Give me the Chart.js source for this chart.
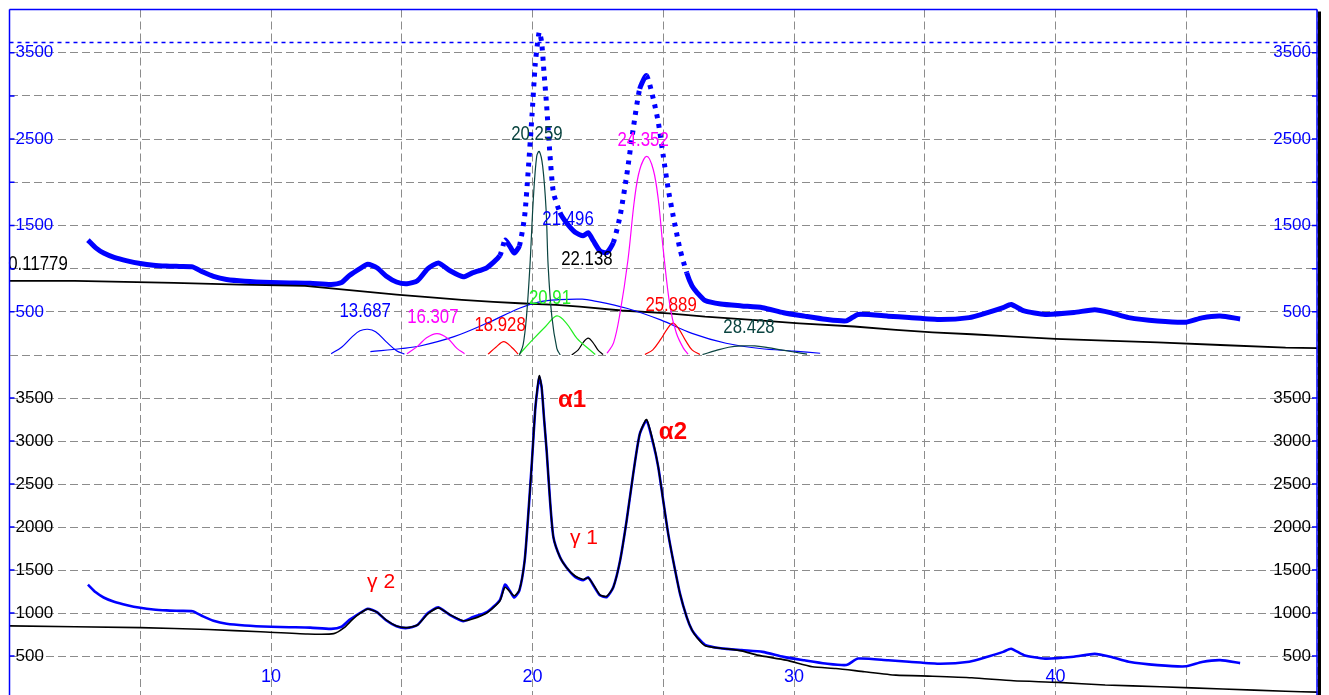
<!DOCTYPE html>
<html>
<head>
<meta charset="utf-8">
<script src="https://cdn.jsdelivr.net/npm/chart.js@4.4.1/dist/chart.umd.min.js"></script>
<style>
  html, body { margin: 0; padding: 0; background: #fff; overflow: hidden; }
  #wrap { position: relative; width: 1329px; height: 695px; overflow: hidden; background: #fff; }
  #wrap canvas { position: absolute; left: 0; }
  #xrd-top { top: 0; z-index: 2; }
  #xrd-bottom { top: 355px; z-index: 1; }
</style>
</head>
<body>
<div id="wrap">
  <canvas id="xrd-top" width="1329" height="360"></canvas>
  <canvas id="xrd-bottom" width="1329" height="360"></canvas>
</div>
<script>
/* ---- measured pattern (2-theta, counts) ---- */
var angle = [3.0, 3.3, 3.6, 4.0, 4.5, 5.0, 5.5, 6.0, 6.5, 7.0, 7.4, 7.8, 8.3, 9.0, 10.0, 10.7, 11.5, 12.3, 12.7, 13.0,
  13.4, 13.7, 14.05, 14.4, 14.8, 15.2, 15.6, 16.0, 16.4, 16.85, 17.35, 17.7, 18.25, 18.75, 18.95, 19.15, 19.3, 19.5,
  19.7, 19.83, 19.98, 20.1, 20.18, 20.26, 20.35, 20.44, 20.54, 20.67, 20.8, 21.05, 21.3, 21.63, 21.94, 22.13, 22.33,
  22.58, 22.84, 23.09, 23.35, 23.6, 23.85, 24.1, 24.36, 24.62, 24.81, 25.0, 25.19, 25.38, 25.64, 25.9, 26.1, 26.3,
  26.6, 27.2, 28.0, 28.8, 29.6, 30.4, 31.2, 32.0, 32.45, 33.6, 34.4, 35.6, 36.7, 37.4, 38.0, 38.3, 38.8, 39.6, 40.7,
  41.5, 42.1, 42.8, 43.9, 45.0, 45.6, 46.3, 47.06];
var intensity = [1330, 1240, 1180, 1130, 1090, 1060, 1040, 1030, 1025, 1020, 960, 910, 875, 855, 840, 835, 830, 815, 840, 920,
  1000, 1050, 1010, 915, 845, 825, 860, 1000, 1065, 975, 905, 950, 1010, 1150, 1330, 1250, 1180, 1264,
  1610, 2110, 2770, 3350, 3580, 3740, 3620, 3270, 2890, 2310, 1880, 1650, 1530, 1420, 1380, 1415, 1320,
  1205, 1185, 1300, 1610, 2075, 2615, 3080, 3235, 2965, 2695, 2305, 1920, 1610, 1225, 950, 800, 720,
  630, 590, 568, 548, 490, 450, 413, 395, 470, 450, 433, 410, 433, 491, 548, 585, 510, 470, 491,
  525, 491, 433, 394, 380, 430, 452, 417];

// background line (top panel)
var baseAngle = [0, 2.5, 6.3, 8.8, 11.3, 13.4, 14.8, 16.0, 17.3, 18.5, 19.5, 20.9, 21.8, 23.4, 25.2, 26.6, 28.4, 30.2,
  32.3, 33.9, 35.3, 36.8, 38.4, 40.0, 41.9, 43.9, 46.3, 48.8, 50];
var baseLevel = [858, 858, 835, 815, 800, 740, 700, 669, 638, 615, 599, 580, 560, 515, 483, 444, 406, 367,
  330, 290, 263, 240, 212, 186, 166, 147, 116, 85, 80];
var maxLevel = 3617;

// fitted envelope + background (bottom panel)
var fitAngle = [0, 5, 7.6, 9.6, 11.4, 12.4, 12.8, 13.1, 13.4, 13.7, 14.05, 14.4, 14.8, 15.2, 15.6, 16.0, 16.4, 16.85,
  17.35, 17.7, 18.25, 18.75, 18.95, 19.3, 19.5, 19.7, 19.83, 19.98, 20.1, 20.18, 20.26, 20.35, 20.44, 20.54, 20.67,
  20.8, 21.05, 21.3, 21.63, 21.94, 22.13, 22.33, 22.58, 22.84, 23.09, 23.35, 23.6, 23.85, 24.1, 24.36, 24.62, 24.81,
  25.0, 25.19, 25.38, 25.64, 25.9, 26.1, 26.3, 26.6, 27.2, 28.0, 28.6, 29.7, 30.7, 31.6, 32.7, 33.9, 35.3, 36.8,
  38.4, 40.1, 41.9, 44.0, 46.4, 48.8, 50];
var fitLevel = [850, 830, 808, 782, 756, 760, 830, 920, 995, 1045, 1010, 920, 850, 830, 860, 990, 1060, 980,
  910, 930, 1000, 1140, 1300, 1200, 1270, 1610, 2110, 2770, 3350, 3600, 3760, 3630, 3270, 2890, 2310,
  1880, 1650, 1530, 1430, 1390, 1410, 1330, 1210, 1195, 1300, 1610, 2075, 2615, 3080, 3250, 2980, 2695,
  2305, 1920, 1610, 1225, 950, 800, 710, 620, 590, 560, 510, 452, 375, 355, 317, 278, 265, 247,
  212, 193, 162, 143, 116, 90, 80];

// deconvoluted peaks
var p13687X = [12.3, 12.7, 13.1, 13.4, 13.7, 14.0, 14.4, 14.8, 15.1];
var p13687Y = [15, 90, 210, 280, 298, 270, 155, 50, 10];
var p16307X = [15.2, 15.6, 15.95, 16.35, 16.75, 17.1, 17.4];
var p16307Y = [15, 100, 200, 248, 195, 80, 15];
var p18928X = [18.3, 18.6, 18.9, 19.2, 19.45];
var p18928Y = [10, 90, 155, 90, 10];
var p20259X = [19.5, 19.64, 19.77, 19.9, 20.03, 20.16, 20.26, 20.39, 20.52, 20.6, 20.74, 20.93, 21.06];
var p20259Y = [0, 116, 444, 1023, 1797, 2300, 2357, 2183, 1681, 1023, 444, 77, 0];
var p2091X = [19.5, 20.0, 20.5, 20.93, 21.3, 21.7, 22.2, 22.4];
var p2091Y = [10, 175, 330, 452, 367, 193, 58, 5];
var p21496X = [13.8, 15.0, 15.7, 17.0, 18.25, 19.5, 20.3, 21.0, 21.9, 22.3, 23.6, 24.9, 26.1, 27.4, 28.7, 30.0, 31.0];
var p21496Y = [40, 75, 104, 212, 367, 541, 618, 640, 646, 630, 541, 406, 251, 136, 75, 45, 20];
var p22138X = [21.5, 21.75, 21.95, 22.13, 22.3, 22.5, 22.7];
var p22138Y = [0, 60, 150, 195, 150, 60, 5];
var p24352X = [22.85, 23.1, 23.35, 23.65, 23.9, 24.1, 24.37, 24.62, 24.81, 25.0, 25.26, 25.5, 25.77, 25.95];
var p24352Y = [20, 140, 490, 1100, 1800, 2145, 2300, 2145, 1800, 1220, 560, 255, 80, 10];
var p25889X = [24.3, 24.6, 24.9, 25.15, 25.37, 25.6, 25.85, 26.1, 26.4];
var p25889Y = [5, 60, 180, 300, 370, 300, 170, 60, 5];
var p28428X = [26.5, 27.0, 27.5, 28.0, 28.5, 29.0, 29.5, 30.0, 30.5];
var p28428Y = [5, 50, 90, 105, 105, 85, 60, 35, 10];

// peak position labels (placed in data units)
var peakLabels = ["13.687", "16.307", "18.928", "20.259", "20.91", "21.496", "22.138", "24.352", "25.889", "28.428", "0.11779"];
var peakLabelAngle = [13.6, 16.19, 18.76, 20.17, 20.67, 21.36, 22.08, 24.23, 25.3, 28.28, 1.09];
var peakLabelLevel = [499, 429, 336, 2551, 649, 1565, 1101, 2481, 568, 313, 1043];

var phaseLabels = ["\u03b11", "\u03b12", "\u03b3 1", "\u03b3 2"];
var phaseAngle = [21.51, 25.37, 21.97, 14.21];
var phaseLevel = [3467, 3096, 1867, 1357];

// tick labels
var xTickLabels = ["10", "20", "30", "40"];
var topTickLabels = ["500", "1500", "2500", "3500"];
var bottomTickLabels = ["500", "1000", "1500", "2000", "2500", "3000", "3500"];

/* ---- styling ---- */
var BLUE = "#0000ff", MAGENTA = "#ff00ff", RED = "#ff0000", TEAL = "#0a4440", GREEN = "#22ee22", GRID = "#8c8c8c";
var SANS = "'Liberation Sans', Arial, sans-serif";
var peakColors = [BLUE, MAGENTA, RED, TEAL, GREEN, BLUE, "#000000", MAGENTA, RED, TEAL, "#000000"];

function pts(xs, ys) {
  return xs.map(function (x, i) { return { x: x, y: ys[i] }; });
}

function thin(xs, ys, color) {
  return { data: pts(xs, ys), borderColor: color, borderWidth: 1.2, pointRadius: 0, tension: 0.35, fill: false };
}

var framePlugin = {
  id: "frame",
  afterDraw: function (chart, args, opts) {
    var a = chart.chartArea, c = chart.ctx, ys = chart.scales.y;
    c.save();
    c.strokeStyle = BLUE;
    c.lineWidth = 1.5;
    c.beginPath();
    if (opts.top) { c.moveTo(a.left, a.top); c.lineTo(a.right, a.top); }
    c.moveTo(a.left, a.top); c.lineTo(a.left, a.bottom);
    c.moveTo(a.right, a.top); c.lineTo(a.right, a.bottom);
    // small inner tick marks
    for (var v = 500; v < 4000; v += 500) {
      var py = ys.getPixelForValue(v);
      c.moveTo(a.left, py); c.lineTo(a.left + 5, py);
      c.moveTo(a.right - 5, py); c.lineTo(a.right, py);
    }
    c.stroke();
    c.fillStyle = "#000";
    c.fillRect(a.right + 1, a.top + (opts.top ? 2 : 0), 3, a.bottom - a.top);
    c.restore();
  }
};

// narrow, tall lettering like the original instrument software
var labelPlugin = {
  id: "labels",
  afterDatasetsDraw: function (chart, args, opts) {
    var c = chart.ctx, sx = chart.scales.x, sy = chart.scales.y;
    opts.items.forEach(function (it) {
      c.save();
      c.translate(sx.getPixelForValue(it.x), sy.getPixelForValue(it.y));
      c.scale(it.squeeze || 1, 1);
      c.textAlign = "center";
      c.textBaseline = "middle";
      c.font = it.font;
      c.fillStyle = it.color;
      c.fillText(it.text, 0, 0);
      c.restore();
    });
  }
};

function zeroPad(scale) {
  scale.paddingTop = 0; scale.paddingBottom = 0; scale.paddingLeft = 0; scale.paddingRight = 0;
}

function yAxis(position, color, labels) {
  return {
    type: "linear", position: position, min: 0, max: 4000,
    grid: { display: position === "left", color: GRID, lineWidth: 1, drawTicks: false },
    border: { display: false, dash: [8, 4] },
    ticks: {
      stepSize: 500, mirror: true, padding: position === "left" ? 6 : -6, color: color,
      font: { family: SANS, size: 17 },
      callback: function (v) { var s = String(v); return labels.indexOf(s) >= 0 ? s : ""; }
    },
    afterFit: function (scale) { scale.width = 0; zeroPad(scale); }
  };
}

function xAxis(showLabels) {
  return {
    type: "linear", min: 0, max: 50,
    grid: { color: GRID, lineWidth: 1, drawTicks: false },
    border: { display: false, dash: [8, 4] },
    ticks: {
      display: showLabels, stepSize: 5, autoSkip: false, maxRotation: 0, mirror: true, padding: 11, color: BLUE,
      font: { family: SANS, size: 18 },
      callback: function (v) { var s = String(v); return xTickLabels.indexOf(s) >= 0 ? s : ""; }
    },
    afterFit: function (scale) { scale.height = 0; zeroPad(scale); }
  };
}

// ---- top panel: raw pattern + peak fit components ----
var topItems = peakLabels.map(function (t, i) {
  return { text: t, x: peakLabelAngle[i], y: peakLabelLevel[i], color: peakColors[i], font: "20px " + SANS, squeeze: 0.84 };
});

new Chart(document.getElementById("xrd-top"), {
  type: "line",
  data: {
    datasets: [
      thin(p20259X, p20259Y, TEAL),
      thin(p2091X, p2091Y, GREEN),
      thin(p22138X, p22138Y, "#000000"),
      thin(p24352X, p24352Y, MAGENTA),
      thin(p25889X, p25889Y, RED),
      thin(p28428X, p28428Y, TEAL),
      thin(p13687X, p13687Y, BLUE),
      thin(p16307X, p16307Y, MAGENTA),
      thin(p18928X, p18928Y, RED),
      thin(p21496X, p21496Y, BLUE),
      { data: pts(baseAngle, baseLevel), borderColor: "#000", borderWidth: 1.8, pointRadius: 0, tension: 0 },
      { data: pts([0, 50], [maxLevel, maxLevel]), borderColor: BLUE, borderWidth: 1.5, borderDash: [4, 4], pointRadius: 0 },
      {
        data: pts(angle, intensity), borderColor: BLUE, borderWidth: 5, pointRadius: 0, tension: 0.2,
        segment: {
          borderDash: function (ctx) {
            return Math.abs(ctx.p1.y - ctx.p0.y) > 2.5 * Math.abs(ctx.p1.x - ctx.p0.x) ? [4, 6] : undefined;
          }
        }
      }
    ]
  },
  options: {
    responsive: false, animation: false, events: [],
    layout: { autoPadding: false, padding: { left: 9.5, right: 12, top: 9.5, bottom: 5 } },
    plugins: { legend: { display: false }, tooltip: { enabled: false }, frame: { top: true }, labels: { items: topItems } },
    scales: { x: xAxis(false), y: yAxis("left", BLUE, topTickLabels), yR: yAxis("right", BLUE, topTickLabels) }
  },
  plugins: [framePlugin, labelPlugin]
});

// ---- bottom panel: pattern with fitted envelope ----
var phaseFonts = ["bold 24px " + SANS, "bold 24px " + SANS, "21px " + SANS, "21px " + SANS];
var bottomItems = phaseLabels.map(function (t, i) {
  return { text: t, x: phaseAngle[i], y: phaseLevel[i], color: RED, font: phaseFonts[i], squeeze: 1 };
});

new Chart(document.getElementById("xrd-bottom"), {
  type: "line",
  data: {
    datasets: [
      { data: pts(fitAngle, fitLevel), borderColor: "#000", borderWidth: 1.6, pointRadius: 0, tension: 0.2 },
      { data: pts(angle, intensity), borderColor: BLUE, borderWidth: 2.6, pointRadius: 0, tension: 0.2 }
    ]
  },
  options: {
    responsive: false, animation: false, events: [],
    layout: { autoPadding: false, padding: { left: 9.5, right: 12, top: 0, bottom: 16 } },
    plugins: { legend: { display: false }, tooltip: { enabled: false }, frame: { top: false }, labels: { items: bottomItems } },
    scales: { x: xAxis(true), y: yAxis("left", "#000", bottomTickLabels), yR: yAxis("right", "#000", bottomTickLabels) }
  },
  plugins: [framePlugin, labelPlugin]
});
</script>
</body>
</html>
